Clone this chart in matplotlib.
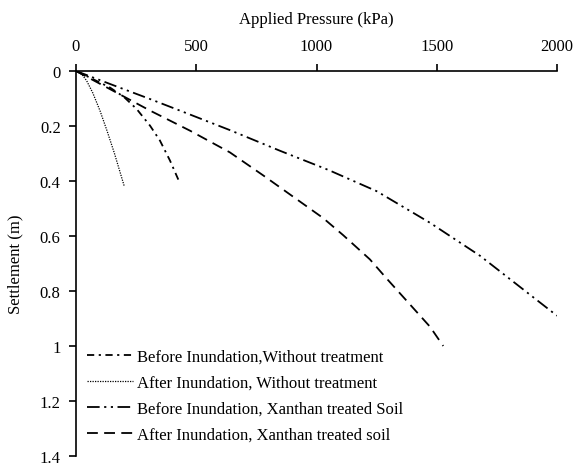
import matplotlib
matplotlib.use("Agg")
import matplotlib.pyplot as plt

plt.rcParams['font.family'] = ['Liberation Serif', 'DejaVu Serif']

# === Data (pressure in kPa, settlement in m) ===
p_before_untreated = [0, 60, 141, 200, 252, 308, 349, 391, 428]
s_before_untreated = [0, 0.025, 0.06, 0.095, 0.138, 0.199, 0.253, 0.326, 0.40]

p_after_untreated = [0, 24, 44, 70, 100, 130, 160, 201]
s_after_untreated = [0, 0.012, 0.035, 0.08, 0.145, 0.22, 0.30, 0.42]

p_before_xanthan = [0, 150, 308, 432, 640, 848, 1050, 1250, 1472, 1680, 2000]
s_before_xanthan = [0, 0.05, 0.102, 0.144, 0.215, 0.29, 0.36, 0.437, 0.552, 0.672, 0.89]

p_after_xanthan = [0, 150, 308, 474, 640, 779, 1028, 1111, 1222, 1292, 1472, 1527]
s_after_xanthan = [0, 0.07, 0.144, 0.217, 0.296, 0.38, 0.535, 0.597, 0.685, 0.755, 0.93, 1.0]

labels = ["Before Inundation,Without treatment",
          "After Inundation, Without treatment",
          "Before Inundation, Xanthan treated Soil",
          "After Inundation, Xanthan treated soil"]

x_ticks = [0, 500, 1000, 1500, 2000]
y_ticks = [0, 0.2, 0.4, 0.6, 0.8, 1, 1.2, 1.4]
y_tick_labels = ["0", "0.2", "0.4", "0.6", "0.8", "1", "1.2", "1.4"]

# === Plot ===
fig = plt.figure(figsize=(5.76, 4.64), dpi=100)
ax = fig.add_axes([76/576, 1 - 457/464, (557 - 76)/576, (457 - 72)/464])

lw = 1.3
ax.plot(p_before_untreated, s_before_untreated, color="black", lw=lw,
        linestyle=(0, (4, 2.5, 1.2, 2.5)), label=labels[0])
ax.plot(p_after_untreated, s_after_untreated, color="black", lw=0.9,
        linestyle=(0, (1, 1)), label=labels[1])
ax.plot(p_before_xanthan, s_before_xanthan, color="black", lw=lw,
        linestyle=(0, (7, 2.5, 1.2, 2.5, 1.2, 2.5)), label=labels[2])
ax.plot(p_after_xanthan, s_after_xanthan, color="black", lw=lw,
        linestyle=(0, (6, 3.5)), label=labels[3])

ax.set_xlim(0, 2000)
ax.set_ylim(1.4, 0)
ax.xaxis.tick_top()
ax.xaxis.set_label_position("top")
ax.set_xticks(x_ticks)
ax.set_yticks(y_ticks)
ax.set_yticklabels(y_tick_labels)
ax.set_xlabel("Applied Pressure (kPa)", fontsize=12, labelpad=11)
ax.set_ylabel("Settlement (m)", fontsize=12, labelpad=12)

for side in ["right", "bottom"]:
    ax.spines[side].set_visible(False)
for side in ["left", "top"]:
    ax.spines[side].set_linewidth(1.2)
ax.tick_params(axis="both", direction="out", length=5, width=1.2,
               labelsize=12, color="black")
ax.tick_params(axis="x", pad=7)
ax.tick_params(axis="y", pad=6)

ax.legend(loc="upper left", bbox_to_anchor=(87/576, 1 - 350/464),
          bbox_transform=fig.transFigure, frameon=False, fontsize=12,
          handlelength=2.75, handletextpad=0.25, labelspacing=0.6,
          borderpad=0, borderaxespad=0)

fig.savefig("out.png", dpi=100)
